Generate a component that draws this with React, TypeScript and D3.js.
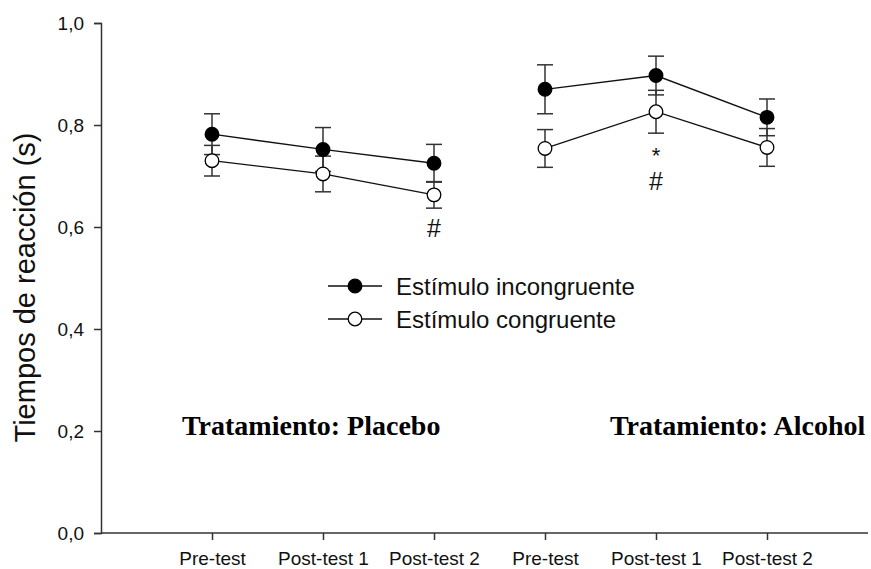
import React, { useRef, useEffect } from 'react';
import * as d3 from 'd3';

// chart data
const treatments = ['Placebo', 'Alcohol'];
const phases = ['Pre-test', 'Post-test 1', 'Post-test 2'];

const incongruentMean = [0.782, 0.752, 0.725, 0.870, 0.897, 0.815];
const incongruentSE = [0.040, 0.043, 0.037, 0.048, 0.038, 0.036];
const congruentMean = [0.730, 0.704, 0.663, 0.754, 0.826, 0.756];
const congruentSE = [0.030, 0.035, 0.026, 0.037, 0.042, 0.037];

const yTicks = [0, 0.2, 0.4, 0.6, 0.8, 1.0];

const seriesNames = ['Estímulo incongruente', 'Estímulo congruente'];
const groupTitles = ['Tratamiento: Placebo', 'Tratamiento: Alcohol'];

// significance marks under the congruent point
const starPoints = [4];
const hashPoints = [2, 4];

const W = 871;
const H = 569;
const sans = '"Liberation Sans", Arial, sans-serif';
const serif = '"Liberation Serif", "Times New Roman", serif';

const App = () => {
  const svgRef = useRef(null);

  useEffect(() => {
    const svg = d3.select(svgRef.current);
    svg.selectAll('*').remove();

    const left = 101;
    const top = 23;
    const bottom = 533;

    const keys = treatments.flatMap(t => phases.map(p => `${t}|${p}`));

    const x = d3.scalePoint()
      .domain(keys)
      .range([left, left + 777])
      .padding(1);

    const y = d3.scaleLinear().domain([0, 1]).range([bottom, top]);

    // y axis
    const yAxis = svg.append('g')
      .attr('transform', `translate(${left},0)`)
      .call(d3.axisLeft(y).tickValues(yTicks).tickSize(7).tickPadding(10)
        .tickFormat(d => d3.format('.1f')(d).replace('.', ',')));
    yAxis.select('.domain').attr('stroke', '#333').attr('stroke-width', 1.5);
    yAxis.selectAll('.tick line').attr('stroke', '#333').attr('stroke-width', 1.5);
    yAxis.selectAll('text').attr('font-family', sans).attr('font-size', 19).attr('fill', '#111');

    // x axis
    const xAxis = svg.append('g')
      .attr('transform', `translate(0,${bottom})`)
      .call(d3.axisBottom(x).tickSize(7).tickPadding(12)
        .tickFormat(d => d.split('|')[1]));
    xAxis.select('.domain').remove();
    xAxis.append('line')
      .attr('x1', left).attr('x2', 868)
      .attr('stroke', '#333').attr('stroke-width', 1.5);
    xAxis.selectAll('.tick line').attr('stroke', '#333').attr('stroke-width', 1.5);
    xAxis.selectAll('text').attr('font-family', sans).attr('font-size', 19).attr('fill', '#111');

    // y axis title
    svg.append('text')
      .attr('transform', `translate(35,${(128 + 447) / 2}) rotate(-90)`)
      .attr('text-anchor', 'middle')
      .attr('font-family', sans)
      .attr('font-size', 29)
      .attr('fill', '#111')
      .text('Tiempos de reacción (s)');

    const series = [
      { mean: incongruentMean, se: incongruentSE, fill: '#000' },
      { mean: congruentMean, se: congruentSE, fill: '#fff' },
    ];

    const line = d3.line().x(d => d[0]).y(d => d[1]);

    series.forEach(s => {
      const pts = keys.map((k, i) => ({ k, i, m: s.mean[i], e: s.se[i] }));

      // error bars
      pts.forEach(p => {
        const cx = x(p.k);
        const g = svg.append('g').attr('stroke', '#333').attr('stroke-width', 1.5);
        g.append('line').attr('x1', cx).attr('x2', cx)
          .attr('y1', y(p.m - p.e)).attr('y2', y(p.m + p.e));
        [p.m - p.e, p.m + p.e].forEach(v => {
          g.append('line').attr('x1', cx - 8).attr('x2', cx + 8)
            .attr('y1', y(v)).attr('y2', y(v));
        });
      });

      // lines inside each treatment
      treatments.forEach((t, ti) => {
        const seg = pts.slice(ti * 3, ti * 3 + 3).map(p => [x(p.k), y(p.m)]);
        svg.append('path')
          .attr('d', line(seg))
          .attr('fill', 'none')
          .attr('stroke', '#111')
          .attr('stroke-width', 1.3);
      });
    });

    // markers drawn last
    series.forEach(s => {
      svg.append('g').selectAll('circle')
        .data(keys)
        .join('circle')
        .attr('cx', k => x(k))
        .attr('cy', (k, i) => y(s.mean[i]))
        .attr('r', 6.8)
        .attr('fill', s.fill)
        .attr('stroke', '#000')
        .attr('stroke-width', 1.3);
    });

    // significance marks
    const lowCap = i => y(congruentMean[i] - congruentSE[i]);
    starPoints.forEach(i => {
      svg.append('text')
        .attr('x', x(keys[i]))
        .attr('y', lowCap(i) + 29.5)
        .attr('text-anchor', 'middle')
        .attr('font-family', sans)
        .attr('font-size', 22)
        .attr('fill', '#111')
        .text('*');
    });
    hashPoints.forEach(i => {
      const offset = starPoints.includes(i) ? 57 : 29;
      svg.append('text')
        .attr('x', x(keys[i]))
        .attr('y', lowCap(i) + offset)
        .attr('text-anchor', 'middle')
        .attr('font-family', sans)
        .attr('font-size', 25)
        .attr('fill', '#111')
        .text('#');
    });

    // legend
    const legend = svg.append('g');
    seriesNames.forEach((name, i) => {
      const ly = 286 + i * 33;
      legend.append('line')
        .attr('x1', 328).attr('x2', 382).attr('y1', ly).attr('y2', ly)
        .attr('stroke', '#111').attr('stroke-width', 1.3);
      legend.append('circle')
        .attr('cx', 355).attr('cy', ly).attr('r', 6.8)
        .attr('fill', series[i].fill).attr('stroke', '#000').attr('stroke-width', 1.3);
      legend.append('text')
        .attr('x', 396).attr('y', ly).attr('dy', '0.36em')
        .attr('font-family', sans).attr('font-size', 24).attr('fill', '#111')
        .text(name);
    });

    // treatment titles
    const titleX = [182, 610];
    groupTitles.forEach((t, i) => {
      svg.append('text')
        .attr('x', titleX[i]).attr('y', 435)
        .attr('font-family', serif)
        .attr('font-weight', 'bold')
        .attr('font-size', 28)
        .attr('fill', '#000')
        .text(t);
    });
  }, []);

  return (
    <svg
      ref={svgRef}
      width={W}
      height={H}
      style={{ position: 'absolute', left: 0, top: 0, background: '#fff' }}
    />
  );
};

export default App;
